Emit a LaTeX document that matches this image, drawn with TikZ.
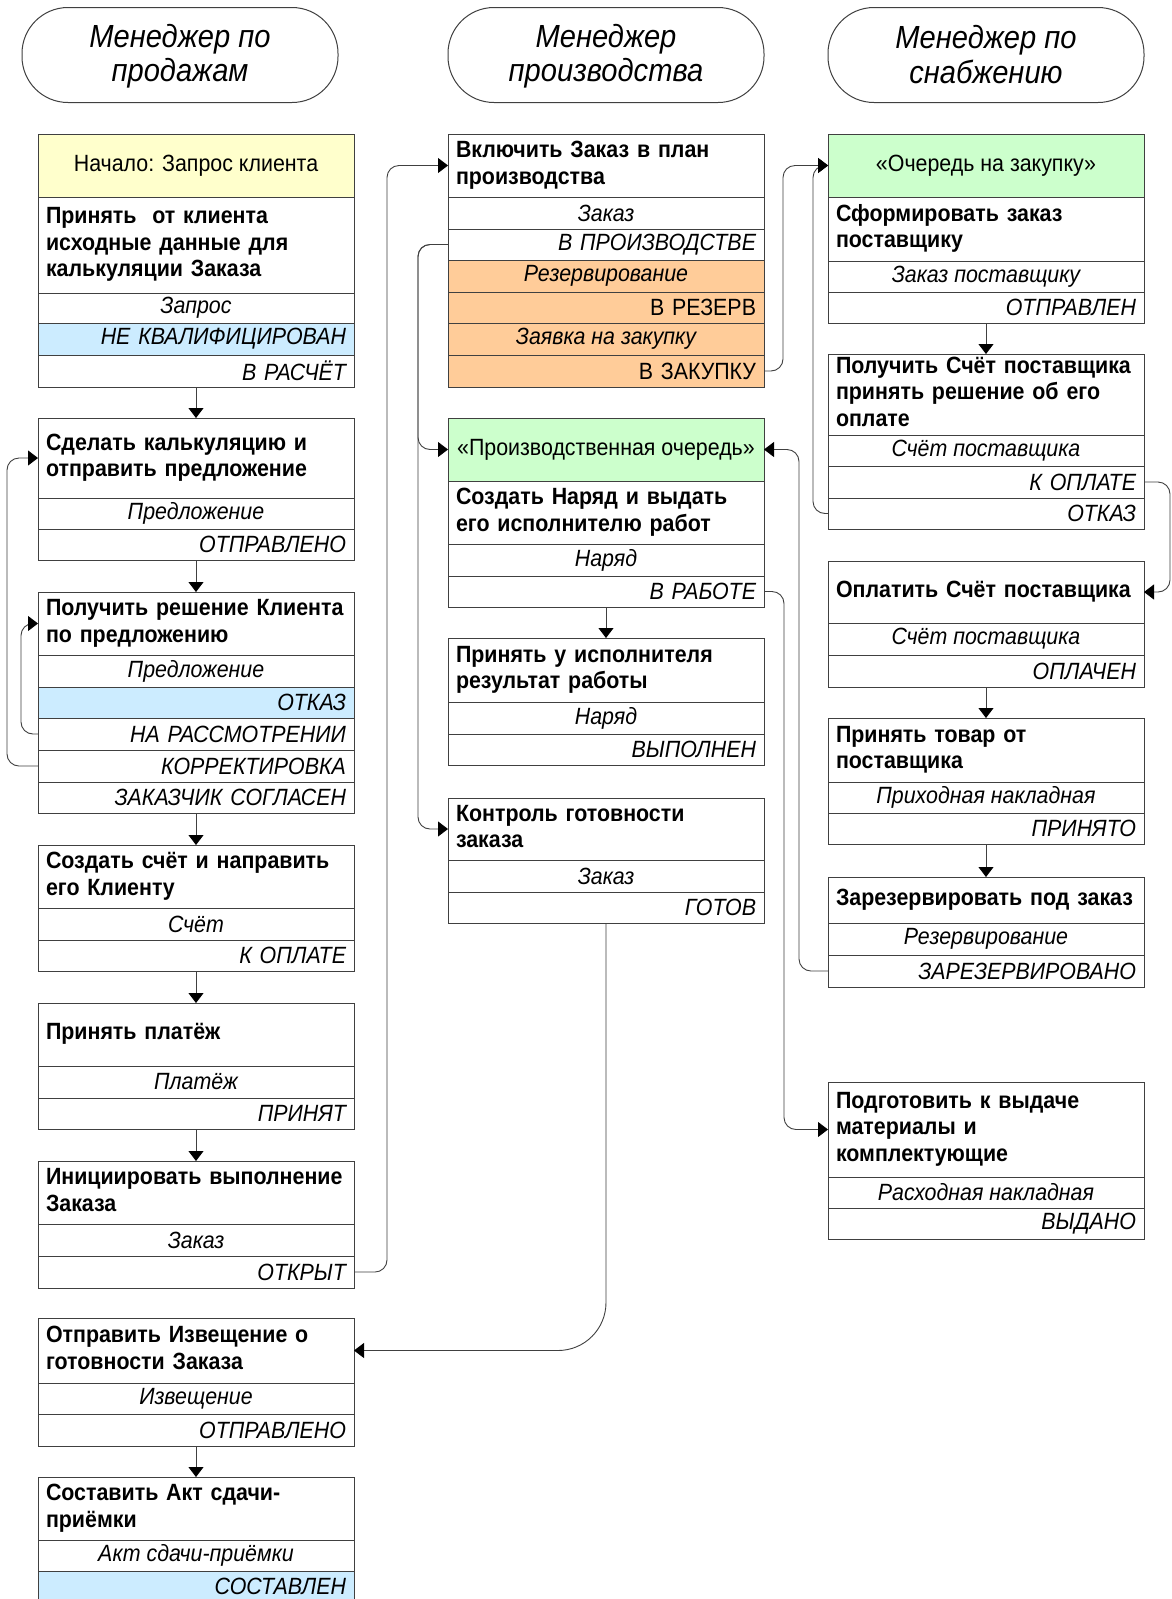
\documentclass[tikz,border=0pt]{standalone}
\usepackage{fontspec}
\setmainfont{Liberation Sans}[FakeStretch=0.91]
\usetikzlibrary{arrows.meta}
\definecolor{cyel}{HTML}{FFFFCC}
\definecolor{cblue}{HTML}{CCECFF}
\definecolor{corg}{HTML}{FFCC99}
\definecolor{cgrn}{HTML}{CCFFCC}
\definecolor{lc}{HTML}{404040}
\newcommand\tfont{\fontsize{23.5}{26.5}\selectfont}
\newcommand\hfont{\fontsize{32}{34.5}\selectfont}
\newcommand\hstr{\rule[-4pt]{0pt}{30pt}}
\newcommand\TL[1]{\begin{tabular}{@{}l@{}}#1\end{tabular}}
\tikzset{
  rowbase/.style={rectangle, draw=lc, line width=1pt, anchor=north west,
    inner xsep=8pt, inner ysep=0pt, outer sep=0pt, minimum width=316pt, font=\tfont},
  trow/.style={rowbase, text width=300pt, align=left, font=\tfont\bfseries},
  orow/.style={rowbase, font=\tfont\itshape},
  prow/.style={rowbase, font=\tfont},
  srow/.style={rowbase, text width=300pt, align=right, font=\tfont\itshape},
  psrow/.style={rowbase, text width=300pt, align=right, font=\tfont},
  pill/.style={draw=lc, line width=1pt, rounded corners=46pt, minimum width=316pt,
    minimum height=95pt, align=center, font=\hfont\itshape, inner sep=0pt},
  conn/.style={draw=lc, line width=0.9pt, rounded corners=12pt,
    -{Triangle[length=10pt,width=15pt,color=black]}},
  arr/.style={draw=lc, line width=0.9pt, -{Triangle[length=10pt,width=15pt,color=black]}}
}
\begin{document}
\begin{tikzpicture}[x=1pt,y=-1pt]
\fill[white] (0,0) rectangle (1171,1599);
\useasboundingbox (0,0) rectangle (1171,1599);

% headers
\node[pill] (h1) at (180,55) {\hstr Менеджер по\\\hstr продажам};
\node[pill] (h2) at (606,55) {\hstr Менеджер\\\hstr производства};
\node[pill] (h3) at (986,55) {\hstr Менеджер по\\\hstr снабжению};

% ---------- left column ----------
\node[prow, fill=cyel, minimum height=63pt] (s0) at (38,134) {Начало: Запрос клиента};
\node[trow, minimum height=96pt] (s1t) at (38,197) {\TL{Принять\ \ от клиента\\исходные данные для\\калькуляции Заказа}};
\node[orow, minimum height=30pt] (s1a) at (38,293) {Запрос};
\node[srow, fill=cblue, minimum height=32pt] (s1b) at (38,323) {НЕ КВАЛИФИЦИРОВАН};
\node[srow, minimum height=32pt] (s1c) at (38,355) {В РАСЧЁТ};

\node[trow, minimum height=80pt] (s2t) at (38,418) {\TL{Сделать калькуляцию и\\отправить предложение}};
\node[orow, minimum height=31pt] (s2a) at (38,498) {Предложение};
\node[srow, minimum height=31pt] (s2b) at (38,529) {ОТПРАВЛЕНО};

\node[trow, minimum height=63pt] (s3t) at (38,592) {\TL{Получить решение Клиента\\по предложению}};
\node[orow, minimum height=32pt] (s3a) at (38,655) {Предложение};
\node[srow, fill=cblue, minimum height=31pt] (s3b) at (38,687) {ОТКАЗ};
\node[srow, minimum height=32pt] (s3c) at (38,718) {НА РАССМОТРЕНИИ};
\node[srow, minimum height=32pt] (s3d) at (38,750) {КОРРЕКТИРОВКА};
\node[srow, minimum height=31pt] (s3e) at (38,782) {ЗАКАЗЧИК СОГЛАСЕН};

\node[trow, minimum height=63pt] (s4t) at (38,845) {\TL{Создать счёт и направить\\его Клиенту}};
\node[orow, minimum height=32pt] (s4a) at (38,908) {Счёт};
\node[srow, minimum height=31pt] (s4b) at (38,940) {К ОПЛАТЕ};

\node[trow, minimum height=63pt] (s5t) at (38,1003) {\TL{Принять платёж}};
\node[orow, minimum height=32pt] (s5a) at (38,1066) {Платёж};
\node[srow, minimum height=31pt] (s5b) at (38,1098) {ПРИНЯТ};

\node[trow, minimum height=63pt] (s6t) at (38,1161) {\TL{Инициировать выполнение\\Заказа}};
\node[orow, minimum height=32pt] (s6a) at (38,1224) {Заказ};
\node[srow, minimum height=32pt] (s6b) at (38,1256) {ОТКРЫТ};

\node[trow, minimum height=65pt] (s7t) at (38,1318) {\TL{Отправить Извещение о\\готовности Заказа}};
\node[orow, minimum height=31pt] (s7a) at (38,1383) {Извещение};
\node[srow, minimum height=32pt] (s7b) at (38,1414) {ОТПРАВЛЕНО};

\node[trow, minimum height=63pt] (s8t) at (38,1477) {\TL{Составить Акт сдачи-\\приёмки}};
\node[orow, minimum height=31pt] (s8a) at (38,1540) {Акт сдачи-приёмки};
\node[srow, fill=cblue, minimum height=31pt] (s8b) at (38,1571) {СОСТАВЛЕН};

% ---------- middle column ----------
\node[trow, minimum height=63pt] (m1t) at (448,134) {\TL{Включить Заказ в план\\производства}};
\node[orow, minimum height=32pt] (m1a) at (448,197) {Заказ};
\node[srow, minimum height=31pt] (m1b) at (448,229) {В ПРОИЗВОДСТВЕ};
\node[orow, fill=corg, minimum height=32pt] (m1c) at (448,260) {Резервирование};
\node[psrow, fill=corg, minimum height=31pt] (m1d) at (448,292) {В РЕЗЕРВ};
\node[orow, fill=corg, minimum height=32pt] (m1e) at (448,323) {Заявка на закупку};
\node[psrow, fill=corg, minimum height=32pt] (m1f) at (448,355) {В ЗАКУПКУ};

\node[prow, fill=cgrn, minimum height=63pt] (m2g) at (448,418) {«Производственная очередь»};
\node[trow, minimum height=63pt] (m2t) at (448,481) {\TL{Создать Наряд и выдать\\его исполнителю работ}};
\node[orow, minimum height=32pt] (m2a) at (448,544) {Наряд};
\node[srow, minimum height=31pt] (m2b) at (448,576) {В РАБОТЕ};

\node[trow, minimum height=64pt] (m3t) at (448,638) {\TL{Принять у исполнителя\\результат работы}};
\node[orow, minimum height=32pt] (m3a) at (448,702) {Наряд};
\node[srow, minimum height=31pt] (m3b) at (448,734) {ВЫПОЛНЕН};

\node[trow, minimum height=62pt] (m4t) at (448,798) {\TL{Контроль готовности\\заказа}};
\node[orow, minimum height=32pt] (m4a) at (448,860) {Заказ};
\node[srow, minimum height=31pt] (m4b) at (448,892) {ГОТОВ};

% ---------- right column ----------
\node[prow, fill=cgrn, minimum height=63pt] (r1g) at (828,134) {«Очередь на закупку»};
\node[trow, minimum height=64pt] (r1t) at (828,197) {\TL{Сформировать заказ\\поставщику}};
\node[orow, minimum height=31pt] (r1a) at (828,261) {Заказ поставщику};
\node[srow, minimum height=31pt] (r1b) at (828,292) {ОТПРАВЛЕН};

\node[trow, minimum height=81pt] (r2t) at (828,354) {\TL{Получить Счёт поставщика\\принять решение об его\\оплате}};
\node[orow, minimum height=31pt] (r2a) at (828,435) {Счёт поставщика};
\node[srow, minimum height=32pt] (r2b) at (828,466) {К ОПЛАТЕ};
\node[srow, minimum height=31pt] (r2c) at (828,498) {ОТКАЗ};

\node[trow, minimum height=62pt] (r3t) at (828,561) {\TL{Оплатить Счёт поставщика}};
\node[orow, minimum height=32pt] (r3a) at (828,623) {Счёт поставщика};
\node[srow, minimum height=32pt] (r3b) at (828,655) {ОПЛАЧЕН};

\node[trow, minimum height=64pt] (r4t) at (828,718) {\TL{Принять товар от\\поставщика}};
\node[orow, minimum height=31pt] (r4a) at (828,782) {Приходная накладная};
\node[srow, minimum height=31pt] (r4b) at (828,813) {ПРИНЯТО};

\node[trow, minimum height=46pt] (r5t) at (828,877) {\TL{Зарезервировать под заказ}};
\node[orow, minimum height=32pt] (r5a) at (828,923) {Резервирование};
\node[srow, minimum height=32pt] (r5b) at (828,955) {ЗАРЕЗЕРВИРОВАНО};

\node[trow, minimum height=95pt] (r6t) at (828,1082) {\TL{Подготовить к выдаче\\материалы и\\комплектующие}};
\node[orow, minimum height=31pt] (r6a) at (828,1177) {Расходная накладная};
\node[srow, minimum height=31pt] (r6b) at (828,1208) {ВЫДАНО};

% ---------- lanes ----------
\coordinate (lH) at (7,0);
\coordinate (lI) at (21,0);
\coordinate (lA) at (387,0);
\coordinate (lB) at (418,0);
\coordinate (lC) at (783,0);
\coordinate (lF) at (784,0);
\coordinate (lE) at (799,0);
\coordinate (lD) at (813,0);
\coordinate (lG) at (1170,0);

% ---------- straight arrows ----------
\draw[arr] (s1c.south) -- (s2t.north);
\draw[arr] (s2b.south) -- (s3t.north);
\draw[arr] (s3e.south) -- (s4t.north);
\draw[arr] (s4b.south) -- (s5t.north);
\draw[arr] (s5b.south) -- (s6t.north);
\draw[arr] (s7b.south) -- (s8t.north);
\draw[arr] (m2b.south) -- (m3t.north);
\draw[arr] (r1b.south) -- (r2t.north);
\draw[arr] (r3b.south) -- (r4t.north);
\draw[arr] (r4b.south) -- (r5t.north);

% ---------- routed connectors ----------
\draw[conn] (s3d.west) -| (lH |- s2t.west) -- (s2t.west);
\draw[conn] (s3c.west) -| (lI |- s3t.west) -- (s3t.west);
\draw[conn] (s6b.east) -| (lA |- m1t.west) -- (m1t.west);
\draw[conn] (m1b.west) -| (lB |- m2g.west) -- (m2g.west);
\draw[conn] (m1b.west) -| (lB |- m4t.west) -- (m4t.west);
\draw[conn] (m1f.east) -| (lC |- r1g.west) -- (r1g.west);
\draw[conn] (r2c.west) -| (lD |- r1g.west) -- (r1g.west);
\draw[conn] (r5b.west) -| (lE |- m2g.east) -- (m2g.east);
\draw[conn] (m2b.east) -| (lF |- r6t.west) -- (r6t.west);
\draw[conn] (r2b.east) -| (lG |- r3t.east) -- (r3t.east);
\draw[conn, rounded corners=48pt] (m4b.south) |- (s7t.east);
\end{tikzpicture}
\end{document}
